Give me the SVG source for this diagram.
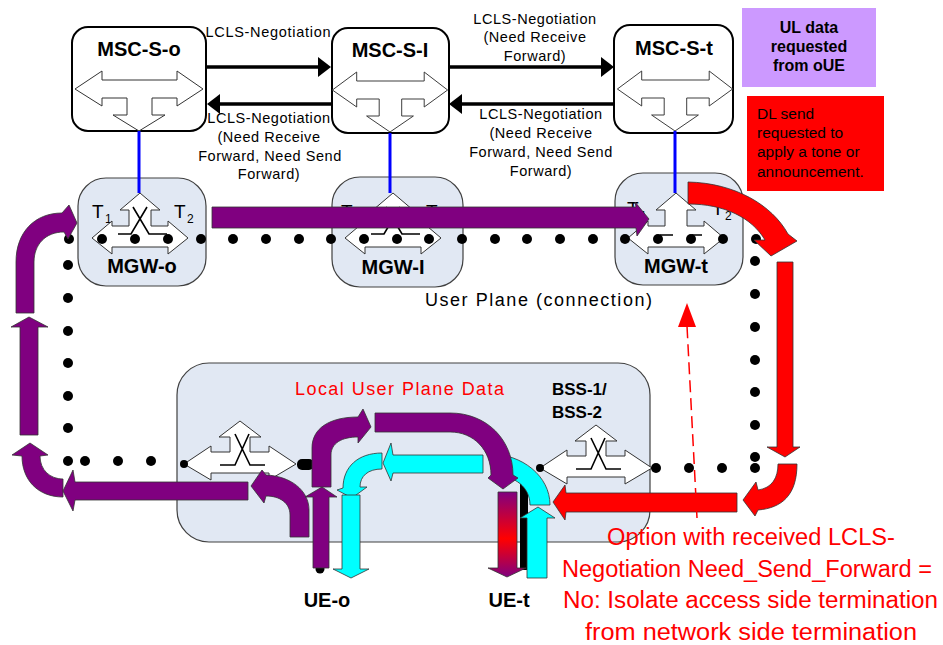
<svg xmlns="http://www.w3.org/2000/svg" width="943" height="645" viewBox="0 0 943 645">
<style>
text{font-family:"Liberation Sans",Arial,sans-serif;fill:#000}
.lbl{font-size:14.5px;letter-spacing:0.55px}
.bold{font-weight:bold}
.msc{fill:#fff;stroke:#000;stroke-width:2}
.gw{fill:#e1e8f3;stroke:#404040;stroke-width:1.2}
.shp{fill:#fff;stroke:#333;stroke-width:1}
.x{fill:none;stroke:#000;stroke-width:1.6}
.dot{fill:#000}
.pur{fill:#800080;stroke:#333;stroke-width:0.8}
.cy{fill:#00ffff;stroke:#333;stroke-width:0.8}
.red{fill:#ff0000;stroke:#333;stroke-width:0.8}
.blue{stroke:#0000ff;stroke-width:3}
.neg{stroke:#000;stroke-width:3.5;fill:none}
.rt{fill:#ff0000;font-size:23px}
</style>
<defs>
<path id="mscArr" d="M -64 0 L -37 -18 L -37 -9 L 38 -9 L 38 -18 L 64 0 L 38 17 L 38 9 L 13 9 L 13 26 L 26 26 L 0 42 L -26 26 L -12 26 L -12 9 L -37 9 L -37 17 Z"/>
<path id="gwArr" d="M -48 0 L -28 -17 L -28 -12 L -11 -12 L -11 -28 L -20 -28 L 0 -45 L 20 -28 L 11 -28 L 11 -12 L 28 -12 L 28 -17 L 48 0 L 28 16 L 28 9 L -28 9 L -28 16 Z"/>
<path id="bssArr" d="M -56 0 L -29 -18 L -29 -12 L -10 -12 L -10 -27 L -21 -27 L 0 -43 L 21 -27 L 10 -27 L 10 -12 L 29 -12 L 29 -18 L 56 0 L 29 16 L 29 9 L -29 9 L -29 16 Z"/>
<linearGradient id="grad" x1="0" y1="0" x2="0" y2="1">
<stop offset="0" stop-color="#800080"/>
<stop offset="0.55" stop-color="#ff0000"/>
<stop offset="1" stop-color="#800080"/>
</linearGradient>
</defs>

<!-- BSS box -->
<g id="bss">
<rect x="177" y="363" width="473" height="179" rx="32" class="gw"/>
<use href="#bssArr" transform="translate(240,464)" class="shp"/>
<path class="x" d="M 220 465 H 235 L 249 434 M 235 434 L 250 465 H 265"/>
<use href="#bssArr" transform="translate(596,468)" class="shp"/>
<path class="x" d="M 576 469 H 591 L 605 438 M 591 438 L 606 469 H 621"/>
<text x="295" y="395" style="fill:#ff0000;font-size:18px" textLength="209" lengthAdjust="spacing">Local User Plane Data</text>
<text x="552" y="395" class="bold" style="font-size:17px">BSS-1/</text>
<text x="552" y="418" class="bold" style="font-size:17px">BSS-2</text>
</g>

<!-- MGW nodes -->
<g id="mgw-o">
<rect x="78" y="178" width="128" height="108" rx="28" class="gw"/>
<text x="92" y="218" style="font-size:19px">T</text><text x="105" y="223" style="font-size:12px">1</text>
<text x="174" y="218" style="font-size:19px">T</text><text x="187" y="223" style="font-size:12px">2</text>
<use href="#gwArr" transform="translate(140,238)" class="shp"/>
<path class="x" d="M 118 234 H 131 L 147 207 M 133 207 L 149 234 H 167"/>
<text x="142" y="273" text-anchor="middle" class="bold" style="font-size:20px">MGW-o</text>
</g>
<g id="mgw-i">
<rect x="332" y="177" width="131" height="110" rx="28" class="gw"/>
<text x="341" y="218" style="font-size:19px">T</text><text x="354" y="223" style="font-size:12px">1</text>
<text x="426" y="218" style="font-size:19px">T</text><text x="439" y="223" style="font-size:12px">2</text>
<use href="#gwArr" transform="translate(393,238)" class="shp"/>
<path class="x" d="M 371 234 H 384 L 400 207 M 386 207 L 402 234 H 420"/>
<text x="393" y="274" text-anchor="middle" class="bold" style="font-size:20px">MGW-I</text>
</g>
<g id="mgw-t">
<rect x="615" y="173" width="128" height="112" rx="28" class="gw"/>
<text x="627" y="215" style="font-size:19px">T</text><text x="640" y="220" style="font-size:12px">1</text>
<text x="712" y="215" style="font-size:19px">T</text><text x="725" y="220" style="font-size:12px">2</text>
<use href="#gwArr" transform="translate(676,238)" class="shp"/>
<path class="x" d="M 660 235 H 673 M 692 235 H 702"/>
<text x="676" y="273" text-anchor="middle" class="bold" style="font-size:20px">MGW-t</text>
</g>

<!-- MSC nodes -->
<g id="msc-s-o">
<rect x="72" y="27" width="134" height="104" rx="16" class="msc"/>
<text x="139" y="56" text-anchor="middle" class="bold" style="font-size:20px">MSC-S-o</text>
<use href="#mscArr" transform="translate(139,89)" class="shp"/>
</g>
<g id="msc-s-i">
<rect x="332" y="28" width="117" height="105" rx="16" class="msc"/>
<text x="390" y="57" text-anchor="middle" class="bold" style="font-size:20px">MSC-S-I</text>
<use href="#mscArr" transform="translate(390,90) scale(0.9,1)" class="shp"/>
</g>
<g id="msc-s-t">
<rect x="614" y="25" width="119" height="108" rx="16" class="msc"/>
<text x="674" y="55" text-anchor="middle" class="bold" style="font-size:20px">MSC-S-t</text>
<use href="#mscArr" transform="translate(675,89) scale(0.9,1)" class="shp"/>
</g>

<!-- notes -->
<g id="note-ul">
<rect x="742" y="8" width="134" height="79" fill="#cc99ff"/>
<text x="809" y="33" text-anchor="middle" class="bold" style="font-size:16px">UL data</text>
<text x="809" y="52" text-anchor="middle" class="bold" style="font-size:16px">requested</text>
<text x="809" y="71" text-anchor="middle" class="bold" style="font-size:16px">from oUE</text>
</g>
<g id="note-dl">
<rect x="747" y="96" width="137" height="95" fill="#ff0000"/>
<text x="757" y="119" style="font-size:15.5px">DL send</text>
<text x="757" y="138" style="font-size:15.5px">requested to</text>
<text x="757" y="157" style="font-size:15.5px">apply a tone or</text>
<text x="757" y="177" style="font-size:15.5px">announcement.</text>
</g>

<!-- dotted user plane -->
<g id="dots" class="dot">
<circle cx="69" cy="239" r="5"/><circle cx="102" cy="239" r="5"/><circle cx="135" cy="239" r="5"/><circle cx="168" cy="239" r="5"/><circle cx="201" cy="239" r="5"/><circle cx="233" cy="239" r="5"/><circle cx="266" cy="239" r="5"/><circle cx="299" cy="239" r="5"/><circle cx="331" cy="239" r="5"/><circle cx="364" cy="239" r="5"/><circle cx="397" cy="239" r="5"/><circle cx="429" cy="239" r="5"/><circle cx="462" cy="239" r="5"/><circle cx="495" cy="239" r="5"/><circle cx="527" cy="239" r="5"/><circle cx="560" cy="239" r="5"/><circle cx="593" cy="239" r="5"/><circle cx="625" cy="239" r="5"/><circle cx="658" cy="239" r="5"/><circle cx="691" cy="239" r="5"/><circle cx="723" cy="239" r="5"/><circle cx="756" cy="239" r="5"/>
<circle cx="68" cy="265" r="5"/><circle cx="68" cy="298" r="5"/><circle cx="68" cy="331" r="5"/><circle cx="68" cy="363" r="5"/><circle cx="68" cy="396" r="5"/><circle cx="68" cy="428" r="5"/><circle cx="68" cy="461" r="5"/>
<circle cx="85" cy="461" r="5"/><circle cx="118" cy="461" r="5"/><circle cx="151" cy="461" r="5"/><circle cx="184" cy="464" r="4"/>
<circle cx="755" cy="261" r="5"/><circle cx="755" cy="294" r="5"/><circle cx="755" cy="327" r="5"/><circle cx="755" cy="360" r="5"/><circle cx="755" cy="392" r="5"/><circle cx="755" cy="425" r="5"/><circle cx="755" cy="457" r="5"/><circle cx="755" cy="468" r="5"/>
<circle cx="656" cy="468" r="5"/><circle cx="689" cy="468" r="5"/><circle cx="722" cy="468" r="5"/><circle cx="540" cy="468" r="4"/>
<rect x="297" y="459" width="17" height="11" rx="5"/>
<rect x="520" y="483" width="8" height="87"/>
<circle cx="320" cy="569" r="4.5"/>
</g>

<text x="425" y="306" style="font-size:18px" textLength="227" lengthAdjust="spacing">User Plane (connection)</text>

<!-- connectors -->
<g id="connectors">
<line x1="139" y1="131" x2="139" y2="193" class="blue"/>
<line x1="390" y1="133" x2="390" y2="193" class="blue"/>
<line x1="675" y1="131" x2="675" y2="193" class="blue"/>

<line x1="206" y1="67" x2="320" y2="67" class="neg"/>
<polygon points="331,67 318,57 318,77" fill="#000"/>
<line x1="332" y1="104" x2="218" y2="104" class="neg"/>
<polygon points="207,104 220,94 220,114" fill="#000"/>
<line x1="449" y1="67" x2="604" y2="67" class="neg"/>
<polygon points="614,67 601,57 601,77" fill="#000"/>
<line x1="614" y1="104" x2="460" y2="104" class="neg"/>
<polygon points="449,104 462,94 462,114" fill="#000"/>

<text x="268" y="37" text-anchor="middle" style="font-size:14.5px" textLength="125" lengthAdjust="spacing">LCLS-Negotiation</text>
<g class="lbl" text-anchor="middle">
<text x="269" y="123">LCLS-Negotiation</text>
<text x="269" y="142">(Need Receive</text>
<text x="270" y="161">Forward, Need Send</text>
<text x="269" y="179">Forward)</text>
<text x="535" y="24">LCLS-Negotiation</text>
<text x="535" y="42">(Need Receive</text>
<text x="535" y="61">Forward)</text>
<text x="541" y="119">LCLS-Negotiation</text>
<text x="541" y="138">(Need Receive</text>
<text x="541" y="157">Forward, Need Send</text>
<text x="541" y="176">Forward)</text>
</g>

<!-- purple flow -->
<path class="pur" d="M 212 207 L 636 207 L 635 202 L 649 219 L 637 236 L 636 228 L 212 228 Z"/>
<path class="pur" d="M 16 313 L 16 262 C 16 232 35 213 62 213 L 69 205 L 77 223 L 68 239 L 64 232 C 45 232 34 245 34 262 L 34 313 Z"/>
<path class="pur" d="M 20 435 L 20 327 L 11 327 L 29 317 L 48 327 L 38 327 L 38 435 Z"/>
<path class="pur" d="M 63 497 C 38 497 22 480 22 456 L 12 455 L 30 443 L 48 455 L 40 456 C 40 470 50 479 63 479 Z"/>
<path class="pur" d="M 248 482 L 75 482 L 73 470 L 63 491 L 73 511 L 75 500 L 248 500 Z"/>
<path class="pur" d="M 290 537 L 290 515 C 290 503 280 496 266 496 L 264 503 L 251 486 L 262 470 L 266 475 C 290 476 309 490 309 510 L 309 537 Z"/>
<path class="pur" d="M 313 568 L 313 497 L 305 497 L 322 487 L 337 497 L 329 497 L 329 568 Z"/>
<path class="pur" d="M 312 487 L 312 448 C 312 428 330 417 358 417 L 363 409 L 371 427 L 358 443 L 358 437 C 342 437 331 443 331 455 L 331 487 Z"/>

<!-- cyan flow -->
<path class="cy" d="M 490 454 C 522 454 550 476 550 505 L 530 505 C 530 488 516 475 492 475 Z"/>
<path class="cy" d="M 483 455 L 393 455 L 391 443 L 383 463 L 391 481 L 393 473 L 483 473 Z"/>
<path class="cy" d="M 382 453 L 382 469 C 368 469 360 476 360 487 L 367 487 L 352 498 L 337 490 L 343 488 C 343 467 358 453 382 453 Z"/>
<path class="cy" d="M 342 495 L 342 569 L 333 569 L 351 578 L 369 569 L 360 569 L 360 495 Z"/>
<path class="cy" d="M 527 578 L 527 518 L 520 518 L 538 507 L 555 518 L 547 518 L 547 578 Z"/>

<path class="pur" d="M 375 413 L 450 413 C 487 413 513 440 513 475 L 518 478 L 503 489 L 488 478 L 491 475 C 491 450 474 432 450 432 L 375 432 Z"/>
<path d="M 498 492 L 498 568 L 488 568 L 507 577 L 526 568 L 517 568 L 517 492 Z" fill="url(#grad)" stroke="#333" stroke-width="0.8"/>

<!-- red flow -->
<path class="red" d="M 688 182 C 735 183 772 205 788 234 L 797 241 L 771 256 L 754 240 L 765 240 C 752 218 725 204 688 204 Z"/>
<path class="red" d="M 777 262 L 777 447 L 767 447 L 785 457 L 800 447 L 793 447 L 793 262 Z"/>
<path class="red" d="M 778 464 L 797 464 C 797 495 782 508 758 510 L 755 516 L 743 500 L 756 482 L 758 490 C 772 488 778 478 778 464 Z"/>
<path class="red" d="M 737 493 L 566 493 L 565 485 L 553 502 L 565 520 L 566 512 L 737 512 Z"/>

<line x1="697" y1="518" x2="687" y2="326" stroke="#ff0000" stroke-width="1.5" stroke-dasharray="12,6"/>
<polygon points="687,303 678,327 696,327" fill="#ff0000"/>
</g>

<g id="ue-labels">
<text x="327" y="607" text-anchor="middle" class="bold" style="font-size:20px">UE-o</text>
<text x="509" y="607" text-anchor="middle" class="bold" style="font-size:20px">UE-t</text>
</g>

<g id="option-text">
<text x="607" y="545" class="rt" textLength="288" lengthAdjust="spacingAndGlyphs">Option with received LCLS-</text>
<text x="562" y="577" class="rt" textLength="370" lengthAdjust="spacingAndGlyphs">Negotiation Need_Send_Forward =</text>
<text x="563" y="608" class="rt" textLength="375" lengthAdjust="spacingAndGlyphs">No: Isolate access side termination</text>
<text x="585" y="640" class="rt" textLength="332" lengthAdjust="spacingAndGlyphs">from network side termination</text>
</g>
</svg>
